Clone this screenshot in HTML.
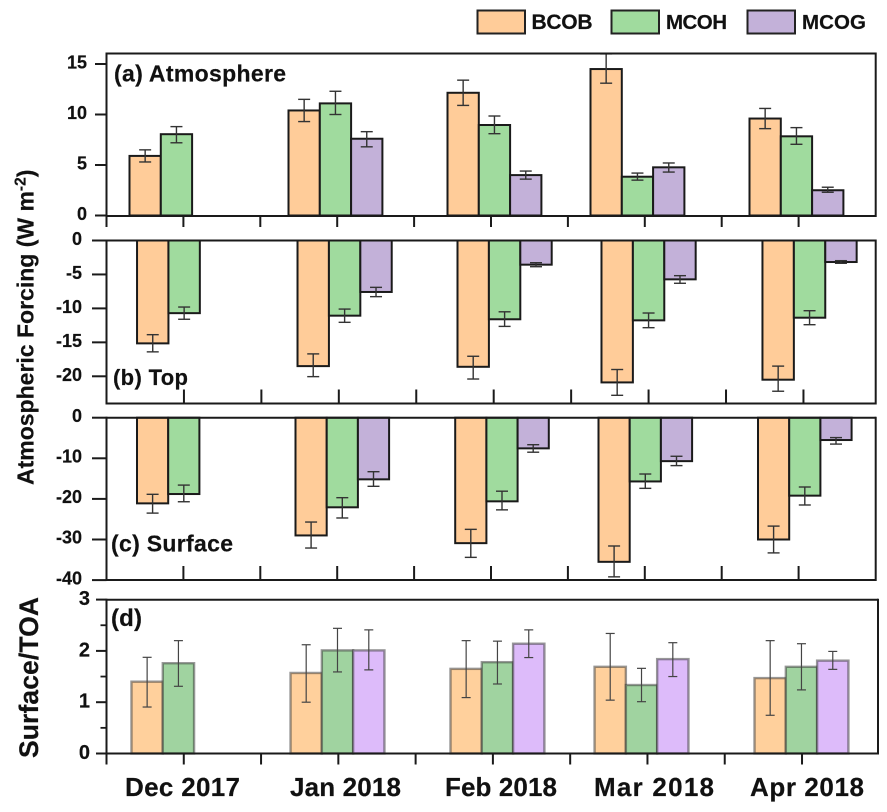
<!DOCTYPE html>
<html>
<head>
<meta charset="utf-8">
<title>Atmospheric Forcing Chart</title>
<style>
html,body{margin:0;padding:0;background:#fff;}
svg{display:block;filter:blur(0.35px);}
text{font-family:"Liberation Sans",sans-serif;font-weight:bold;fill:#111;stroke:#111;stroke-width:0.2px;}
</style>
</head>
<body>
<svg id="chart" width="887" height="812" viewBox="0 0 887 812" xmlns="http://www.w3.org/2000/svg">
  <g>
    <rect x="477.5" y="10.5" width="47.5" height="23" fill="#FFCC99" stroke="#222" stroke-width="2"/>
    <text x="531.5" y="29" font-size="21" textLength="61">BCOB</text>
    <rect x="611.5" y="10.5" width="47.5" height="23" fill="#A0DB9E" stroke="#222" stroke-width="2"/>
    <text x="666" y="29" font-size="20.5" textLength="61">MCOH</text>
    <rect x="747.5" y="10.5" width="47.5" height="23" fill="#C3B1D9" stroke="#222" stroke-width="2"/>
    <text x="802" y="29" font-size="20.5" textLength="64">MCOG</text>
  </g>
  <text transform="translate(33.5,485) rotate(-90)" font-size="23">Atmospheric Forcing (W m<tspan font-size="15.5" dy="-8">-2</tspan><tspan dy="8">)</tspan></text>
  <text transform="translate(38,758) rotate(-90)" font-size="26.5" textLength="161">Surface/TOA</text>
  <text x="114" y="81.5" font-size="23" textLength="172">(a) Atmosphere</text>
  <text x="113" y="385" font-size="22" textLength="75">(b) Top</text>
  <text x="111" y="551.5" font-size="23" textLength="122">(c) Surface</text>
  <text x="111" y="626" font-size="24" textLength="31">(d)</text>
</svg>
<script>
const categories = ['Dec 2017','Jan 2018','Feb 2018','Mar 2018','Apr 2018'];
const seriesNames = ['bcob','mcoh','mcog'];

const atmTicks = [0,5,10,15];
const atmBCOB = [5.9,10.4,12.15,14.5,9.6];
const atmMCOH = [8.05,11.1,8.96,3.84,7.84];
const atmMCOG = [null,7.6,4.0,4.77,2.5];
const atmBCOBHi = [6.5,11.5,13.4,16,10.6];
const atmBCOBLo = [5.3,9.3,10.9,13.1,8.6];
const atmMCOHHi = [8.8,12.3,9.85,4.2,8.7];
const atmMCOHLo = [7.2,10,8.1,3.5,7.05];
const atmMCOGHi = [null,8.3,4.4,5.2,2.8];
const atmMCOGLo = [null,6.8,3.6,4.3,2.3];

const topTicks = [0,-5,-10,-15,-20];
const topBCOB = [-15.15,-18.5,-18.6,-20.9,-20.5];
const topMCOH = [-10.7,-11.07,-11.6,-11.76,-11.37];
const topMCOG = [null,-7.58,-3.56,-5.72,-3.17];
const topBCOBHi = [-13.87,-16.7,-17.05,-19,-18.5];
const topBCOBLo = [-16.4,-20.05,-20.4,-22.8,-22.2];
const topMCOHHi = [-9.8,-10.1,-10.5,-10.68,-10.34];
const topMCOHLo = [-11.6,-12.05,-12.65,-12.84,-12.4];
const topMCOGHi = [null,-6.9,-3.27,-5.18,-2.97];
const topMCOGLo = [null,-8.27,-3.86,-6.3,-3.36];

const sfcTicks = [0,-10,-20,-30,-40];
const sfcBCOB = [-21.1,-29,-30.9,-35.5,-30];
const sfcMCOH = [-18.8,-22.07,-20.6,-15.7,-19.2];
const sfcMCOG = [null,-15.18,-7.55,-10.7,-5.5];
const sfcBCOBHi = [-18.87,-25.7,-27.5,-31.6,-26.7];
const sfcBCOBLo = [-23.5,-32.1,-34.4,-39.2,-33.3];
const sfcMCOHHi = [-16.6,-19.7,-18.1,-13.87,-17.07];
const sfcMCOHLo = [-20.7,-24.7,-22.7,-17.4,-21.5];
const sfcMCOGHi = [null,-13.3,-6.65,-9.5,-4.9];
const sfcMCOGLo = [null,-16.9,-8.5,-11.8,-6.5];

const ratioTicks = [0,1,2,3];
const ratioMinorTicks = [0.5,1.5,2.5];
const ratioBCOB = [1.4,1.57,1.65,1.69,1.47];
const ratioMCOH = [1.76,2.01,1.78,1.335,1.69];
const ratioMCOG = [null,2.01,2.14,1.84,1.81];
const ratioBCOBHi = [1.875,2.12,2.2,2.34,2.2];
const ratioBCOBLo = [0.906,1.0,1.09,1.04,0.745];
const ratioMCOHHi = [2.2,2.44,2.19,1.66,2.14];
const ratioMCOHLo = [1.31,1.59,1.355,1.01,1.24];
const ratioMCOGHi = [null,2.41,2.41,2.16,1.99];
const ratioMCOGLo = [null,1.63,1.87,1.5,1.64];

const NS = 'http://www.w3.org/2000/svg';
const svg = document.getElementById('chart');

const panels = [
  {id:'atmosphere', top:53.5, bottom:216, right:875.7, zeroY:215.5, unit:10.1, half:76.9, barW:31.3,
   shift:[-53.9,-48.7,-43.5,-54.3,-49.1], ticks:atmTicks, minor:[], tickLeft:95, labelX:87, labelDy:4.5, fontSize:18,
   xTickDir:11, xTickY:216, cap:6, errColor:'#333', errW:1.4, fills:['#FFCC99','#A0DB9E','#C3B1D9'], stroke:'#1a1a1a', sw:2,
   vals:[atmBCOB,atmMCOH,atmMCOG], his:[atmBCOBHi,atmMCOHHi,atmMCOGHi], los:[atmBCOBLo,atmMCOHLo,atmMCOGLo]},
  {id:'top', top:240.5, bottom:403.5, right:875.7, zeroY:240.5, unit:6.79, half:77.44, barW:31.4,
   shift:[-46.9,-41.3,-36.2,-47.1,-41], ticks:topTicks, minor:[], tickLeft:92, labelX:82, labelDy:4.5, fontSize:18,
   xTickDir:-14, xTickY:403.5, cap:6, errColor:'#333', errW:1.4, fills:['#FFCC99','#A0DB9E','#C3B1D9'], stroke:'#1a1a1a', sw:2,
   vals:[topBCOB,topMCOH,topMCOG], his:[topBCOBHi,topMCOHHi,topMCOGHi], los:[topBCOBLo,topMCOHLo,topMCOGLo]},
  {id:'surface', top:417.7, bottom:580, right:875.7, zeroY:417.7, unit:4.06, half:76.9, barW:31.2,
   shift:[-46.4,-41.7,-35.8,-46.3,-40.6], ticks:sfcTicks, minor:[], tickLeft:92, labelX:82, labelDy:4.2, fontSize:18,
   xTickDir:-14, xTickY:580, cap:6, errColor:'#333', errW:1.4, fills:['#FFCC99','#A0DB9E','#C3B1D9'], stroke:'#1a1a1a', sw:2,
   vals:[sfcBCOB,sfcMCOH,sfcMCOG], his:[sfcBCOBHi,sfcMCOHHi,sfcMCOGHi], los:[sfcBCOBLo,sfcMCOHLo,sfcMCOGLo]},
  {id:'ratio', top:599.8, bottom:753.5, right:878, zeroY:753.5, unit:51.3, half:77.28, barW:31.3,
   shift:[-52.3,-47.8,-42.4,-52.9,-47.5], ticks:ratioTicks, minor:ratioMinorTicks, tickLeft:96, labelX:90, labelDy:5.5, fontSize:20,
   xTickDir:11, xTickY:753.5, cap:4.5, errColor:'#444', errW:1.2, fills:['#FFD09C','#A0D3A0','#DDBBFA'], stroke:'rgba(50,50,50,0.5)', sw:2.4,
   vals:[ratioBCOB,ratioMCOH,ratioMCOG], his:[ratioBCOBHi,ratioMCOHHi,ratioMCOGHi], los:[ratioBCOBLo,ratioMCOHLo,ratioMCOGLo]}
];

const AXIS_X0 = 106.5;
function yScale(p, v){ return p.zeroY - v * p.unit; }
function tickX(p, k){ return AXIS_X0 + k * p.half; }
function barLeft(p, monthIdx, seriesIdx){
  return tickX(p, 2 * monthIdx + 1) + p.shift[monthIdx] + seriesIdx * p.barW;
}
function seg(parent, x1, y1, x2, y2, color, width){
  const el = document.createElementNS(NS, 'line');
  el.setAttribute('x1', x1);
  el.setAttribute('y1', y1);
  el.setAttribute('x2', x2);
  el.setAttribute('y2', y2);
  el.setAttribute('stroke', color);
  el.setAttribute('stroke-width', width);
  parent.appendChild(el);
  return el;
}

panels.forEach(function(p){
  const g = document.createElementNS(NS, 'g');
  
  
  svg.appendChild(g);

  p.vals.forEach(function(series, s){
    series.forEach(function(v, m){
      if (v === null) return;
      const x = barLeft(p, m, s);
      const y0 = yScale(p, 0);
      const y1 = yScale(p, v);
      const r = document.createElementNS(NS, 'rect');
      
      
      r.setAttribute('x', x);
      r.setAttribute('y', Math.min(y0, y1));
      r.setAttribute('width', p.barW);
      r.setAttribute('height', Math.abs(y1 - y0));
      r.setAttribute('fill', p.fills[s]);
      r.setAttribute('stroke', p.stroke);
      r.setAttribute('stroke-width', p.sw);
      g.appendChild(r);
    });
  });

  p.vals.forEach(function(series, s){
    series.forEach(function(v, m){
      if (v === null) return;
      const cx = barLeft(p, m, s) + p.barW / 2;
      const yHi = yScale(p, p.his[s][m]);
      const yLo = yScale(p, p.los[s][m]);
      const eg = document.createElementNS(NS, 'g');
      
      
      g.appendChild(eg);
      seg(eg, cx, yHi, cx, yLo, p.errColor, p.errW);
      seg(eg, cx - p.cap, yHi, cx + p.cap, yHi, p.errColor, p.errW);
      seg(eg, cx - p.cap, yLo, cx + p.cap, yLo, p.errColor, p.errW);
    });
  });

  const frame = document.createElementNS(NS, 'g');
  
  
  g.appendChild(frame);
  seg(frame, AXIS_X0, p.top, p.right, p.top, '#1a1a1a', 2);
  seg(frame, AXIS_X0, p.bottom, p.right, p.bottom, '#1a1a1a', 2);
  seg(frame, AXIS_X0, p.top - 1, AXIS_X0, p.bottom + 1, '#1a1a1a', 2);
  seg(frame, p.right, p.top - 1, p.right, p.bottom + 1, '#1a1a1a', 2);

  p.ticks.forEach(function(t){
    const y = yScale(p, t);
    seg(frame, p.tickLeft, y, AXIS_X0, y, '#1a1a1a', 2);
    const lab = document.createElementNS(NS, 'text');
    
    
    lab.setAttribute('x', p.labelX);
    lab.setAttribute('y', y + p.labelDy);
    lab.setAttribute('text-anchor', 'end');
    lab.setAttribute('font-size', p.fontSize);
    lab.textContent = t;
    frame.appendChild(lab);
  });
  p.minor.forEach(function(t){
    const y = yScale(p, t);
    seg(frame, 100.5, y, AXIS_X0, y, '#1a1a1a', 1.8);
  });
  for (let k = 0; k < categories.length * 2; k++){
    const x = tickX(p, k);
    seg(frame, x, p.xTickY, x, p.xTickY + p.xTickDir, '#1a1a1a', 2);
  }
});

const xLabelLefts = [125, 290, 445, 594, 750];
const xLabelWidths = [115, 111, 112, 120, 114];
categories.forEach(function(c, i){
  const t = document.createElementNS(NS, 'text');
  
  
  t.setAttribute('x', xLabelLefts[i]);
  t.setAttribute('y', 796);
  t.setAttribute('font-size', 26);
  t.setAttribute('textLength', xLabelWidths[i]);
  t.textContent = c;
  svg.appendChild(t);
});
</script>
</body>
</html>
